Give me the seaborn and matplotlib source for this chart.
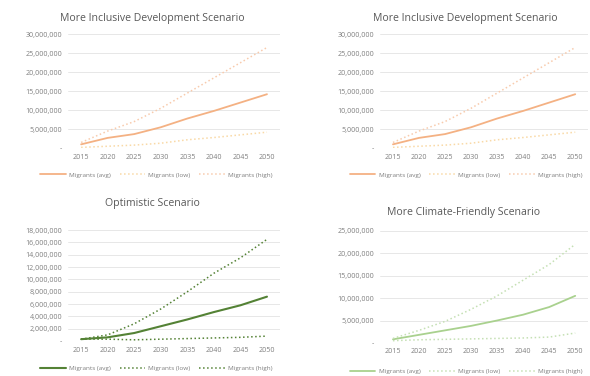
import matplotlib
matplotlib.use("Agg")
import matplotlib.pyplot as plt
import matplotlib.ticker as mticker
from matplotlib.lines import Line2D
import pandas as pd
import seaborn as sns

# ================================
# DATA
# ================================
YEARS = [2015, 2020, 2025, 2030, 2035, 2040, 2045, 2050]

INCL_AVG = [1.0e6, 2.7e6, 3.7e6, 5.5e6, 7.8e6, 9.8e6, 12.0e6, 14.2e6]
INCL_LOW = [0.2e6, 0.5e6, 0.8e6, 1.3e6, 2.2e6, 2.8e6, 3.5e6, 4.2e6]
INCL_HIGH = [1.5e6, 4.5e6, 7.0e6, 10.5e6, 14.5e6, 18.5e6, 22.5e6, 26.5e6]

OPT_AVG = [0.3e6, 0.6e6, 1.3e6, 2.4e6, 3.5e6, 4.7e6, 5.8e6, 7.2e6]
OPT_LOW = [0.3e6, 0.3e6, 0.2e6, 0.3e6, 0.4e6, 0.5e6, 0.6e6, 0.8e6]
OPT_HIGH = [0.3e6, 1.0e6, 2.8e6, 5.2e6, 8.0e6, 11.0e6, 13.5e6, 16.5e6]

CLIM_AVG = [0.8e6, 1.8e6, 2.8e6, 3.8e6, 5.0e6, 6.3e6, 8.0e6, 10.5e6]
CLIM_LOW = [0.5e6, 0.7e6, 0.8e6, 0.9e6, 1.0e6, 1.1e6, 1.3e6, 2.2e6]
CLIM_HIGH = [1.0e6, 2.8e6, 4.8e6, 7.5e6, 10.5e6, 14.0e6, 17.5e6, 22.0e6]

SERIES_NAMES = ["Migrants (avg)", "Migrants (low)", "Migrants (high)"]

TEXT = "#7f7f7f"
GRID = "#e3e3e3"


def fmt(v, pos):
    if v == 0:
        return "-"
    return f"{int(v):,}"


def draw_panel(rect, title, title_xy, legend_y, legend_x, avg, low, high,
               colors, ymax, ystep, widths):
    ax = fig.add_axes(rect)
    df = pd.DataFrame({"year": YEARS, SERIES_NAMES[0]: avg,
                       SERIES_NAMES[1]: low, SERIES_NAMES[2]: high})
    styles = ["-", ":", ":"]
    for name, c, ls, lw in zip(SERIES_NAMES, colors, styles, widths):
        sns.lineplot(data=df, x="year", y=name, ax=ax, color=c,
                     linestyle=ls, linewidth=lw)
    ax.set_xlim(2012.5, 2052.5)
    ax.set_ylim(0, ymax)
    ax.set_xticks(YEARS)
    ax.set_yticks(range(0, int(ymax) + 1, int(ystep)))
    ax.yaxis.set_major_formatter(mticker.FuncFormatter(fmt))
    ax.set_xlabel("")
    ax.set_ylabel("")
    ax.tick_params(length=0, labelsize=5.1, colors=TEXT, pad=4)
    ax.grid(axis="y", color=GRID, linewidth=0.6)
    ax.grid(axis="x", visible=False)
    for s in ax.spines.values():
        s.set_visible(False)
    ax.set_axisbelow(True)
    fig.text(title_xy[0], title_xy[1], title, ha="center", va="center",
             fontsize=7.6, color="#595959")
    handles = [Line2D([0], [0], color=c, linestyle=ls, linewidth=lw)
               for c, ls, lw in zip(colors, styles, widths)]
    fig.legend(handles, SERIES_NAMES, loc="center",
               bbox_to_anchor=(legend_x, legend_y), ncol=3, frameon=False,
               fontsize=4.6, labelcolor=TEXT, handlelength=4.0,
               columnspacing=1.4, handletextpad=0.5)
    return ax


sns.set_theme(style="white")
plt.rcParams["font.family"] = ["Open Sans", "DejaVu Sans"]

fig = plt.figure(figsize=(5.9, 3.76), dpi=100)
fig.patch.set_facecolor("white")

incl_colors = ["#f4b183", "#f9d9a6", "#f8cbad"]
opt_colors = ["#548235", "#548235", "#548235"]
clim_colors = ["#a9d18e", "#c5e0b4", "#c5e0b4"]

draw_panel([0.115, 0.606, 0.36, 0.303], "More Inclusive Development Scenario",
           (0.259, 0.952), 0.535, 0.265, INCL_AVG, INCL_LOW, INCL_HIGH,
           incl_colors, 30e6, 5e6, [1.3, 1.1, 1.1])
draw_panel([0.644, 0.606, 0.353, 0.303], "More Inclusive Development Scenario",
           (0.788, 0.952), 0.535, 0.79, INCL_AVG, INCL_LOW, INCL_HIGH,
           incl_colors, 30e6, 5e6, [1.3, 1.1, 1.1])
draw_panel([0.115, 0.093, 0.36, 0.295], "Optimistic Scenario",
           (0.259, 0.46), 0.021, 0.265, OPT_AVG, OPT_LOW, OPT_HIGH,
           opt_colors, 18e6, 2e6, [1.5, 1.1, 1.1])
draw_panel([0.644, 0.088, 0.353, 0.298], "More Climate-Friendly Scenario",
           (0.785, 0.434), 0.013, 0.79, CLIM_AVG, CLIM_LOW, CLIM_HIGH,
           clim_colors, 25e6, 5e6, [1.3, 1.1, 1.1])

fig.savefig("out.png", dpi=100)
